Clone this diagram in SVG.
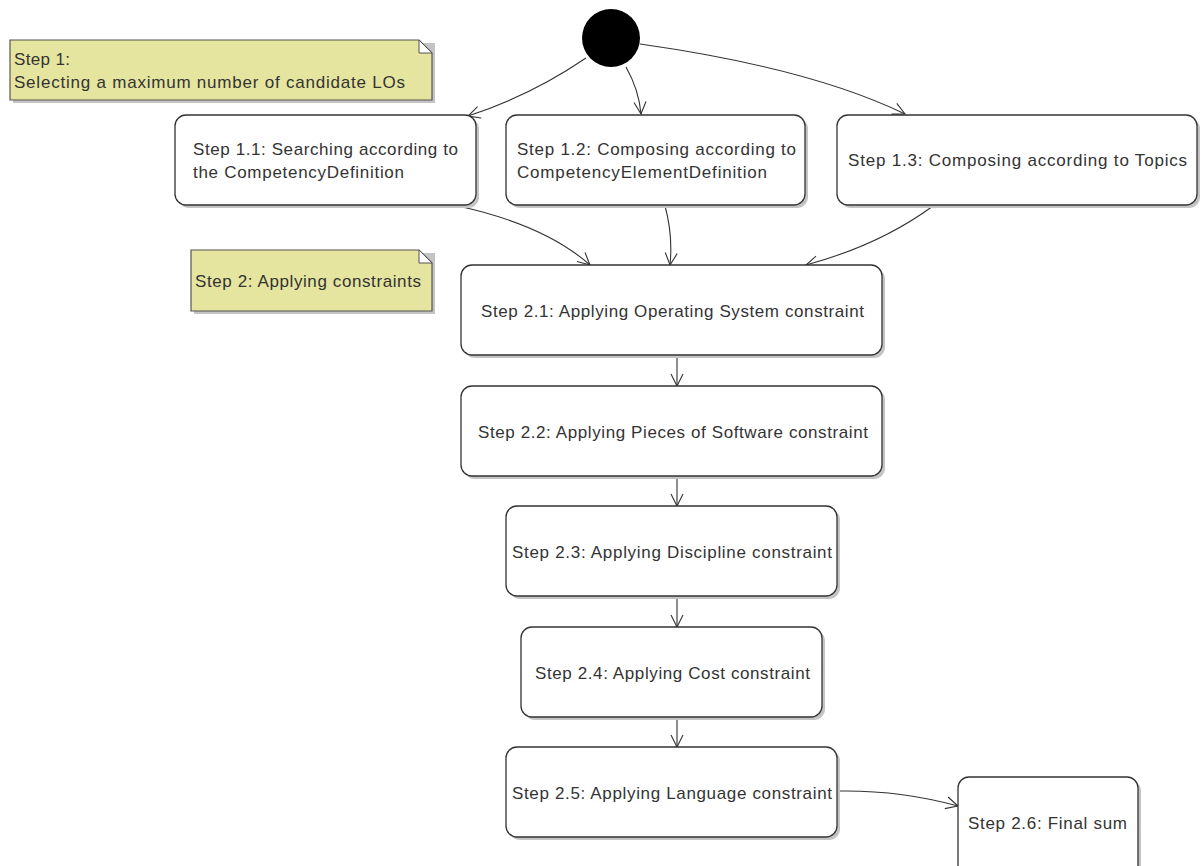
<svg xmlns="http://www.w3.org/2000/svg" width="1202" height="866" viewBox="0 0 1202 866">
<defs>
<style>
.node{fill:#fff;stroke:#333;stroke-width:1.3}
.shadow{fill:#c4c4c4}
.note{fill:#e5e59f;stroke:#555;stroke-width:1.2}
.fold{fill:#fff;stroke:#555;stroke-width:1}
.t{font-family:"Liberation Sans",Arial,sans-serif;font-size:17px;fill:#333}
.edge{fill:none;stroke:#333;stroke-width:1.1;marker-end:url(#arr)}
</style>
<marker id="arr" markerUnits="userSpaceOnUse" markerWidth="16" markerHeight="16" refX="0" refY="0" viewBox="-14 -8 16 16" orient="auto">
<path d="M -12 -6 L 0 0 L -12 6" fill="none" stroke="#333" stroke-width="1.1"/>
</marker>
</defs>
<rect width="1202" height="866" fill="#fff"/>

<g id="connectors">
<path class="edge" d="M 586 58 Q 530 96 468 116"/>
<path class="edge" d="M 626 67 Q 639 90 641 114"/>
<path class="edge" d="M 640 44 Q 810 68 905 114"/>
<path class="edge" d="M 458 206 Q 545 225 590 265"/>
<path class="edge" d="M 665 206 Q 673 235 670 265"/>
<path class="edge" d="M 933 206 Q 880 245 806 265"/>
<path class="edge" d="M 677 356 L 677 386"/>
<path class="edge" d="M 677 477 L 677 506"/>
<path class="edge" d="M 677 597 L 677 627"/>
<path class="edge" d="M 677 718 L 677 747"/>
<path class="edge" d="M 838 791 Q 900 790 958 806"/>
</g>

<g id="initial">
<circle cx="611" cy="38" r="29" fill="#000"/>
</g>

<g id="note1">
<path class="shadow" d="M 13 43 L 435 43 L 435 103 L 13 103 Z"/>
<path class="note" d="M 10 40 L 419 40 L 432 53 L 432 100 L 10 100 Z"/>
<path class="fold" d="M 419 40 L 419 53 L 432 53 Z"/>
<text class="t" x="14" y="65" textLength="56">Step 1:</text>
<text class="t" x="14" y="88" textLength="391">Selecting a maximum number of candidate LOs</text>
</g>

<g id="note2">
<path class="shadow" d="M 194 253 L 435 253 L 435 314 L 194 314 Z"/>
<path class="note" d="M 191 250 L 419 250 L 432 263 L 432 311 L 191 311 Z"/>
<path class="fold" d="M 419 250 L 419 263 L 432 263 Z"/>
<text class="t" x="195" y="287" textLength="226">Step 2: Applying constraints</text>
</g>

<g id="step11">
<rect class="shadow" x="178" y="118" width="301" height="90" rx="11"/>
<rect class="node" x="175" y="115" width="301" height="90" rx="11"/>
<text class="t" x="193" y="155" textLength="265">Step 1.1: Searching according to</text>
<text class="t" x="193" y="178" textLength="211">the CompetencyDefinition</text>
</g>

<g id="step12">
<rect class="shadow" x="509" y="118" width="299" height="90" rx="11"/>
<rect class="node" x="506" y="115" width="299" height="90" rx="11"/>
<text class="t" x="517" y="155" textLength="279">Step 1.2: Composing according to</text>
<text class="t" x="517" y="178" textLength="250">CompetencyElementDefinition</text>
</g>

<g id="step13">
<rect class="shadow" x="840" y="118" width="360" height="90" rx="11"/>
<rect class="node" x="837" y="115" width="360" height="90" rx="11"/>
<text class="t" x="848" y="166" textLength="339">Step 1.3: Composing according to Topics</text>
</g>

<g id="step21">
<rect class="shadow" x="464" y="268" width="421" height="90" rx="11"/>
<rect class="node" x="461" y="265" width="421" height="90" rx="11"/>
<text class="t" x="481" y="317" textLength="383">Step 2.1: Applying Operating System constraint</text>
</g>

<g id="step22">
<rect class="shadow" x="464" y="389" width="421" height="90" rx="11"/>
<rect class="node" x="461" y="386" width="421" height="90" rx="11"/>
<text class="t" x="478" y="438" textLength="390">Step 2.2: Applying Pieces of Software constraint</text>
</g>

<g id="step23">
<rect class="shadow" x="509" y="509" width="331" height="90" rx="11"/>
<rect class="node" x="506" y="506" width="331" height="90" rx="11"/>
<text class="t" x="512" y="558" textLength="320">Step 2.3: Applying Discipline constraint</text>
</g>

<g id="step24">
<rect class="shadow" x="524" y="630" width="301" height="90" rx="11"/>
<rect class="node" x="521" y="627" width="301" height="90" rx="11"/>
<text class="t" x="535" y="679" textLength="275">Step 2.4: Applying Cost constraint</text>
</g>

<g id="step25">
<rect class="shadow" x="509" y="750" width="331" height="90" rx="11"/>
<rect class="node" x="506" y="747" width="331" height="90" rx="11"/>
<text class="t" x="512" y="799" textLength="320">Step 2.5: Applying Language constraint</text>
</g>

<g id="step26">
<rect class="shadow" x="961" y="780" width="180" height="100" rx="11"/>
<rect class="node" x="958" y="777" width="180" height="100" rx="11"/>
<text class="t" x="968" y="829" textLength="159">Step 2.6: Final sum</text>
</g>
</svg>
